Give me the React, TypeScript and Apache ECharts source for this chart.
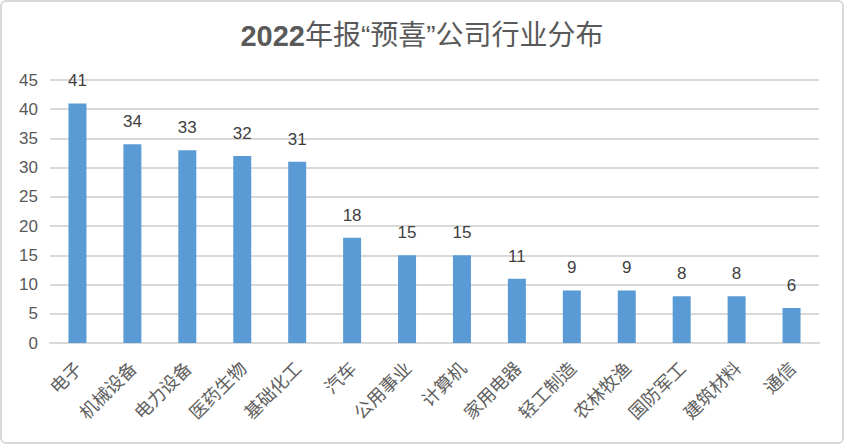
import React, { useEffect, useRef } from "react";
import * as echarts from "echarts";

const categories = ["电子", "机械设备", "电力设备", "医药生物", "基础化工", "汽车", "公用事业", "计算机", "家用电器", "轻工制造", "农林牧渔", "国防军工", "建筑材料", "通信"];
const counts = [41, 34, 33, 32, 31, 18, 15, 15, 11, 9, 9, 8, 8, 6];
const titleYear = "2022";
const titleRest = "年报“预喜”公司行业分布";

const FONT = "'Liberation Sans', Arial, 'Noto Sans CJK SC', sans-serif";

export default function App() {
  const ref = useRef<HTMLDivElement>(null);
  useEffect(() => {
    document.body.style.margin = "0";
    const chart = echarts.init(ref.current!, null, { renderer: "svg" });
    chart.setOption({
      animation: false,
      backgroundColor: "#ffffff",
      title: {
        text: `{a|${titleYear}}{b|${titleRest}}`,
        left: "center",
        top: 14,
        textStyle: {
          rich: {
            a: { fontFamily: FONT, fontSize: 29, fontWeight: "bold", color: "#595959" },
            b: { fontFamily: FONT, fontSize: 28, fontWeight: "normal", color: "#595959" },
          },
        },
      },
      grid: { left: 48, right: 23, top: 78, bottom: 99, containLabel: false },
      xAxis: {
        type: "category",
        data: categories,
        axisLine: { lineStyle: { color: "#d9d9d9", width: 2 } },
        axisTick: { show: false },
        axisLabel: {
          rotate: 45,
          margin: 21,
          interval: 0,
          fontSize: 18,
          color: "#606060",
          fontFamily: "'Noto Sans CJK SC', sans-serif",
        },
      },
      yAxis: {
        type: "value",
        min: 0,
        max: 45,
        interval: 5,
        axisLine: { show: false },
        axisTick: { show: false },
        splitLine: { lineStyle: { color: "#d9d9d9", width: 2 } },
        axisLabel: { fontSize: 17, color: "#595959", margin: 12, fontFamily: FONT },
      },
      series: [
        {
          type: "bar",
          data: counts,
          barWidth: 18,
          itemStyle: { color: "#5b9bd5" },
          label: {
            show: true,
            position: "top",
            distance: 14,
            fontSize: 17,
            color: "#404040",
            fontFamily: FONT,
          },
        },
      ],
    });
    return () => chart.dispose();
  }, []);
  return (
    <div
      ref={ref}
      style={{
        width: 844,
        height: 444,
        boxSizing: "border-box",
        border: "2px solid #d9d9d9",
        borderRadius: 6,
        overflow: "hidden",
      }}
    />
  );
}
